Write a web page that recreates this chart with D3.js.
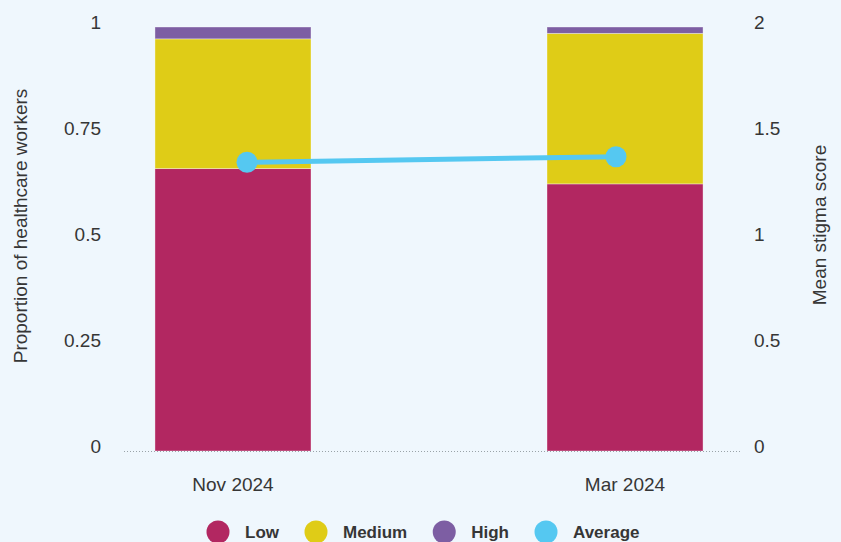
<!DOCTYPE html>
<html>
<head>
<meta charset="utf-8">
<script src="https://cdn.jsdelivr.net/npm/d3@7"></script>
<style>
  html, body { margin: 0; padding: 0; background: #eff7fd; }
  svg { display: block; }
  text { font-family: "Liberation Sans", Arial, sans-serif; }
</style>
</head>
<body>
<svg id="chart" width="841" height="542"></svg>
<script>
// Survey waves and stigma level shares
const periods = ["Nov 2024", "Mar 2024"];
const lowShare = [0.666, 0.630];
const mediumShare = [0.306, 0.355];
const highShare = [0.028, 0.015];
const averageScore = [1.362, 1.388];

const leftTicks = [0, 0.25, 0.5, 0.75, 1];
const rightTicks = [0, 0.5, 1, 1.5, 2];
const legendItems = ["Low", "Medium", "High", "Average"];

const colors = {
  Low: "#b22761",
  Medium: "#dfcc17",
  High: "#7d5ea3",
  Average: "#55c8f1"
};

const textColor = "#363636";
const fontFamily = "'Liberation Sans', Arial, sans-serif";

const svg = d3.select("#chart");
const plotTop = 27, plotBottom = 451;
const plotLeft = 124, plotRight = 742;

const x = d3.scaleBand()
  .domain(periods)
  .range([plotLeft, 734])
  .paddingInner(0.602)
  .paddingOuter(0.079);

const xPoint = d3.scalePoint()
  .domain(periods)
  .range([247, 616]);

const yLeft = d3.scaleLinear().domain([0, 1]).range([plotBottom, plotTop]);
const yRight = d3.scaleLinear().domain([0, 2]).range([plotBottom, plotTop]);

// stacked shares
const rows = periods.map((p, i) => ({
  period: p, Low: lowShare[i], Medium: mediumShare[i], High: highShare[i]
}));
const stack = d3.stack().keys(["Low", "Medium", "High"])(rows);

svg.append("g")
  .selectAll("g")
  .data(stack)
  .join("g")
  .attr("fill", d => colors[d.key])
  .selectAll("rect")
  .data(d => d)
  .join("rect")
  .attr("x", d => x(d.data.period))
  .attr("width", x.bandwidth())
  .attr("y", d => yLeft(d[1]))
  .attr("height", d => yLeft(d[0]) - yLeft(d[1]))
  .attr("stroke", "rgba(255,255,255,0.45)")
  .attr("stroke-width", 0.8);

// dotted baseline
svg.append("line")
  .attr("x1", plotLeft).attr("x2", plotRight)
  .attr("y1", yLeft(0) + 0.5).attr("y2", yLeft(0) + 0.5)
  .attr("stroke", "#9aa3a8")
  .attr("stroke-width", 1)
  .attr("stroke-dasharray", "1,2");

function styleAxisText(g) {
  g.select(".domain").remove();
  g.selectAll("text")
    .attr("font-size", 19)
    .attr("fill", textColor)
    .style("font-family", fontFamily);
}

// left axis
const leftAxis = d3.axisLeft(yLeft)
  .tickValues(leftTicks)
  .tickFormat(d => String(d))
  .tickSize(0)
  .tickPadding(0);
svg.append("g").attr("transform", "translate(101,-5)").call(leftAxis).call(styleAxisText);

// right axis
const rightAxis = d3.axisRight(yRight)
  .tickValues(rightTicks)
  .tickFormat(d => String(d))
  .tickSize(0)
  .tickPadding(0);
svg.append("g").attr("transform", "translate(754,-5)").call(rightAxis).call(styleAxisText);

// bottom axis
const bottomAxis = d3.axisBottom(x).tickSize(0).tickPadding(0);
svg.append("g").attr("transform", "translate(0,477)").call(bottomAxis).call(styleAxisText);

// axis titles
svg.append("text")
  .attr("transform", `translate(27,226) rotate(-90)`)
  .attr("text-anchor", "middle")
  .attr("font-size", 19).attr("fill", textColor)
  .text("Proportion of healthcare workers");

svg.append("text")
  .attr("transform", `translate(826,225) rotate(-90)`)
  .attr("text-anchor", "middle")
  .attr("font-size", 19).attr("fill", textColor)
  .text("Mean stigma score");

// average line
const line = d3.line()
  .x((d, i) => xPoint(periods[i]))
  .y(d => yRight(d));

svg.append("path")
  .datum(averageScore)
  .attr("d", line)
  .attr("fill", "none")
  .attr("stroke", colors.Average)
  .attr("stroke-width", 5);

svg.append("g")
  .selectAll("circle")
  .data(averageScore)
  .join("circle")
  .attr("cx", (d, i) => xPoint(periods[i]))
  .attr("cy", d => yRight(d))
  .attr("r", 10.5)
  .attr("fill", colors.Average);

// legend, laid out by label width
const lg = svg.append("g").attr("transform", "translate(0,532)");
let cursor = 218;
legendItems.forEach(name => {
  const item = lg.append("g").attr("transform", `translate(${cursor},0)`);
  item.append("circle").attr("r", 11.5).attr("fill", colors[name]);
  const t = item.append("text")
    .attr("x", 27).attr("dy", "0.35em")
    .attr("font-size", 17).attr("font-weight", 700).attr("fill", textColor)
    .text(name);
  cursor += 27 + t.node().getComputedTextLength() + 37;
});
</script>
</body>
</html>
